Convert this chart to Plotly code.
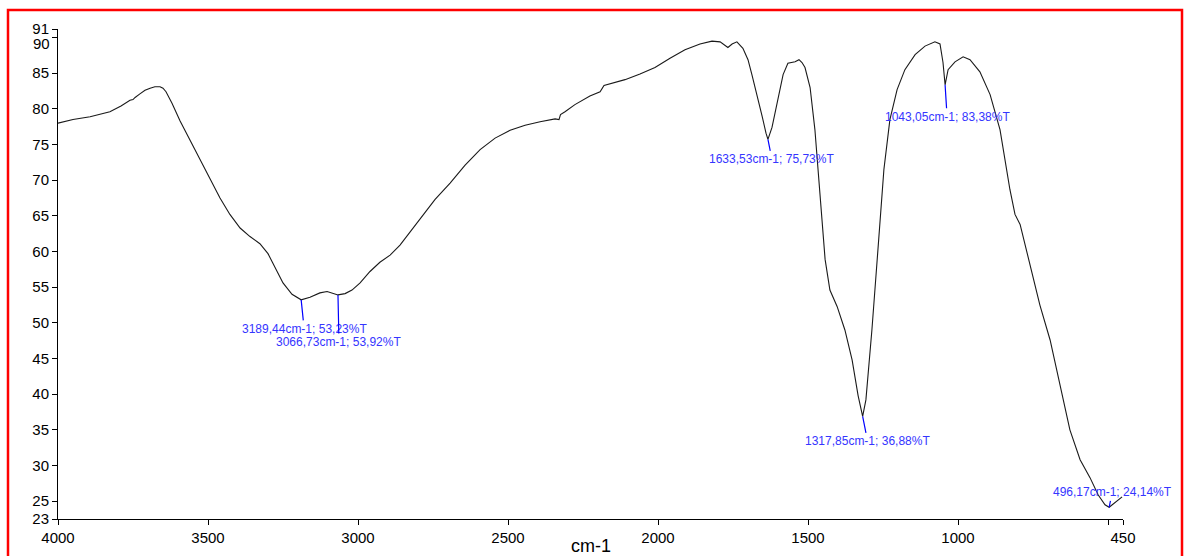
import plotly.graph_objects as go

# Spectrum trace (wavenumber cm-1, %T)
wavenumber = [4000, 3950, 3893, 3850, 3827, 3790, 3760, 3750, 3743, 3727, 3710, 3693, 3677, 3660, 3650,
              3640, 3620, 3593, 3560, 3527, 3493, 3460, 3427, 3393, 3360, 3327, 3300, 3277, 3250, 3220,
              3189.44, 3160, 3127, 3103, 3080, 3066.73, 3043, 3020, 2993, 2960, 2927, 2893, 2860, 2827,
              2793, 2743, 2693, 2643, 2593, 2543, 2493, 2443, 2393, 2343, 2330, 2325, 2310, 2277, 2227,
              2193, 2180, 2160, 2110, 2060, 2010, 1960, 1910, 1860, 1820, 1793, 1767, 1753, 1737, 1717,
              1700, 1687, 1670, 1653, 1640, 1633.53, 1620, 1600, 1583, 1567, 1543, 1530, 1520, 1510,
              1493, 1477, 1460, 1443, 1427, 1403, 1377, 1353, 1333, 1317.85, 1307, 1287, 1267, 1247,
              1227, 1203, 1177, 1143, 1110, 1077, 1060, 1050, 1043.05, 1033, 1010, 983, 960, 927, 893,
              860, 827, 810, 793, 760, 727, 693, 660, 627, 593, 560, 533, 510, 496.17, 477, 453]
transmittance = [78.0, 78.5, 78.9, 79.3, 79.6, 80.4, 81.2, 81.3, 81.6, 82.1, 82.6, 82.9, 83.1, 83.1, 82.9,
                 82.4, 80.8, 78.3, 75.6, 72.9, 70.1, 67.5, 65.2, 63.3, 62.1, 61.1, 59.7, 57.8, 55.6, 54.0,
                 53.23, 53.6, 54.2, 54.4, 54.1, 53.92, 54.1, 54.6, 55.6, 57.2, 58.5, 59.5, 60.9, 62.7,
                 64.6, 67.3, 69.6, 72.1, 74.3, 75.9, 77.0, 77.7, 78.2, 78.6, 78.5, 79.2, 79.6, 80.6, 81.8,
                 82.4, 83.3, 83.5, 84.1, 84.9, 85.8, 87.1, 88.3, 89.1, 89.5, 89.4, 88.6, 89.1, 89.4, 88.5,
                 86.9, 84.8, 82.0, 79.0, 76.6, 75.73, 77.4, 81.3, 84.8, 86.4, 86.6, 86.9, 86.5, 85.8,
                 83.0, 77.1, 67.3, 58.9, 54.6, 52.3, 49.0, 44.8, 39.8, 36.88, 39.2, 49.0, 60.2, 71.5,
                 78.5, 82.7, 85.5, 87.6, 88.8, 89.4, 89.1, 86.5, 83.38, 85.5, 86.6, 87.3, 86.9, 85.2, 82.0,
                 77.1, 68.7, 65.2, 63.8, 58.2, 52.5, 47.6, 41.3, 35.0, 30.8, 28.3, 25.9, 24.5, 24.14, 24.8, 25.6]

# Labelled peaks
peak_wn = [3189.44, 3066.73, 1633.53, 1317.85, 1043.05, 496.17]
peak_t = [53.23, 53.92, 75.73, 36.88, 83.38, 24.14]
peak_dx = [3, 1, 4, 5, 2, 3]
peak_dy = [29, 47, 20, 25, 32, -15]

# Axis ranges and ticks
x_range = [4000, 450]
y_range = [22.5, 91.2]
x_tickvals = [4000, 3500, 3000, 2500, 2000, 1500, 1000, 500, 450]
x_ticktext = ["4000", "3500", "3000", "2500", "2000", "1500", "1000", "", "450"]
y_tickvals = [22.5, 25, 30, 35, 40, 45, 50, 55, 60, 65, 70, 75, 80, 85, 90, 91.2]
y_ticktext = ["23", "25", "30", "35", "40", "45", "50", "55", "60", "65", "70", "75", "80", "85", "", "91"]
y_shifted_label = [90]
x_title = "cm-1"

FONT = "Liberation Sans, Arial, sans-serif"

W, H = 1184, 556
PL, PR, PT, PB = 58, 1123, 29, 519  # plot area edges in px

fig = go.Figure()
fig.add_trace(go.Scatter(x=wavenumber, y=transmittance, mode="lines",
                         line=dict(color="#1a1a1a", width=1.1), hoverinfo="skip"))


def fmt(v):
    return f"{v:.2f}".replace(".", ",")


for w, t, dx, dy in zip(peak_wn, peak_t, peak_dx, peak_dy):
    fig.add_annotation(x=w, y=t, xref="x", yref="y",
                       text=f"{fmt(w)}cm-1; {fmt(t)}%T",
                       showarrow=True, arrowhead=0, arrowwidth=1.2, arrowcolor="#0000ff",
                       ax=dx, ay=dy, standoff=0,
                       font=dict(family=FONT, size=12, color="#3535ff"))

# "90" label nudged below its tick (as in the reference) to clear the "91" end label
for v in y_shifted_label:
    fig.add_annotation(x=0, xref="paper", y=v, yref="y", text=str(v), showarrow=False,
                       xanchor="right", xshift=-6, yshift=-6,
                       font=dict(family=FONT, size=15, color="#000000"))

pw, ph = PR - PL, PB - PT

# x-axis title near the bottom edge as in the reference
fig.add_annotation(x=0.5, xref="paper", y=(PB - 546) / ph, yref="paper", text=x_title,
                   showarrow=False, xanchor="center", yanchor="middle",
                   font=dict(family=FONT, size=18, color="#000000"))

# red frame
fig.add_shape(type="rect", xref="paper", yref="paper",
              x0=(8 - PL) / pw, x1=(1182 - PL) / pw,
              y0=(PB - 575) / ph, y1=(PB - 10) / ph,
              line=dict(color="#ff0000", width=2.5), fillcolor="rgba(0,0,0,0)")

fig.update_layout(
    width=W, height=H,
    margin=dict(l=PL, r=W - PR, t=PT, b=H - PB),
    paper_bgcolor="white", plot_bgcolor="white",
    showlegend=False,
    font=dict(family=FONT, color="#000000"),
    xaxis=dict(range=x_range, tickvals=x_tickvals, ticktext=x_ticktext, automargin=False,
               showgrid=False, zeroline=False, showline=True, linecolor="#000000", linewidth=1,
               ticks="outside", ticklen=5, tickcolor="#000000",
               tickfont=dict(family=FONT, size=15, color="#000000")),
    yaxis=dict(range=y_range, tickvals=y_tickvals, ticktext=y_ticktext, automargin=False,
               showgrid=False, zeroline=False, showline=True, linecolor="#000000", linewidth=1,
               ticks="outside", ticklen=5, tickcolor="#000000",
               tickfont=dict(family=FONT, size=15, color="#000000")),
)

# remove the page's default 8px body margin so the figure sits at the window origin
fig.write_html("out.html", config={"displayModeBar": False},
               post_script="document.body.style.margin='0';document.body.style.overflow='hidden';")
